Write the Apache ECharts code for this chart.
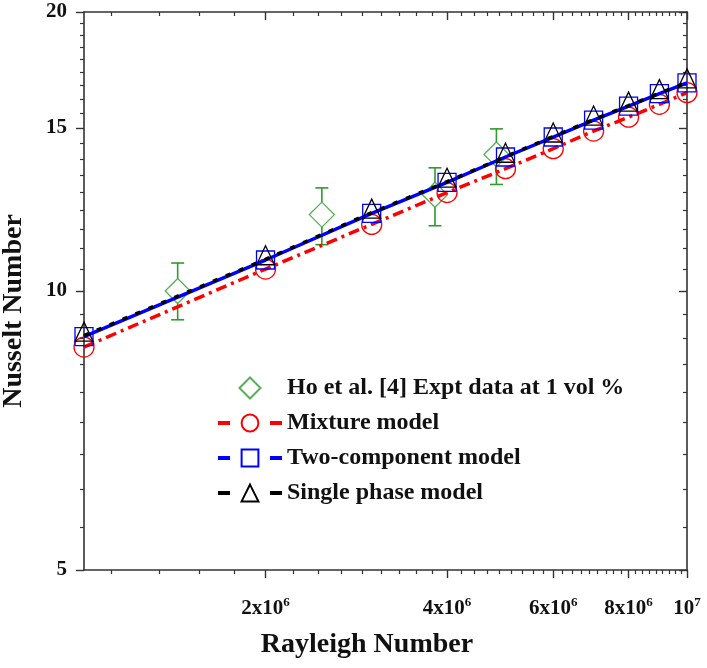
<!DOCTYPE html>
<html><head><meta charset="utf-8">
<script src="https://cdn.jsdelivr.net/npm/echarts@6/dist/echarts.min.js"></script>
<style>html,body{margin:0;padding:0;background:#fff}#c{width:707px;height:668px}</style>
</head><body><div id="c"></div>
<script>
// ---- data ----
const rayleigh = [1e6, 2e6, 3e6, 4e6, 5e6, 6e6, 7e6, 8e6, 9e6, 1e7];
const mixture = [8.70, 10.56, 11.80, 12.77, 13.55, 14.24, 14.88, 15.40, 15.90, 16.37];
const twoComponent = [8.93, 10.80, 12.13, 13.10, 13.95, 14.66, 15.29, 15.83, 16.33, 16.77];
const singlePhase = [8.95, 10.82, 12.15, 13.12, 13.96, 14.68, 15.31, 15.85, 16.35, 16.79];
const exptRa = [1.43e6, 2.48e6, 3.82e6, 4.83e6];
const exptNu = [10.0, 12.09, 12.70, 14.04];
const exptLow = [9.31, 11.22, 11.76, 13.03];
const exptHigh = [10.72, 12.92, 13.58, 14.96];
const xTickValues = [2e6, 4e6, 6e6, 8e6, 1e7];
const xTickLabels = ['2x10{s|6}', '4x10{s|6}', '6x10{s|6}', '8x10{s|6}', '10{s|7}'];
const yTickValues = [5, 10, 15, 20];
const yTickLabels = ['5', '10', '15', '20'];
const seriesNames = ['Ho et al. [4] Expt data at 1 vol %', 'Mixture model', 'Two-component model', 'Single phase model'];

const X_MIN = 1e6, X_MAX = 1e7, Y_MIN = 5, Y_MAX = 20;
const FONT = '"Liberation Serif","Times New Roman",serif';
const GREEN = '#2f9a2f';

function minorTicks(step, lo, hi) {
  const out = [];
  const sub = step / 9;
  for (let k = 0; k * sub <= hi + 1e-9; k++) {
    const v = k * sub;
    if (v > lo && v < hi && k % 9 !== 0) out.push(v);
  }
  return out;
}
const xMinor = minorTicks(2e6, X_MIN, X_MAX);
const yMinor = minorTicks(5, Y_MIN, Y_MAX);

function axisBase(extra) {
  return Object.assign({
    type: 'log', logBase: 10,
    splitLine: { show: false },
    axisLine: { show: false, lineStyle: { color: '#333', width: 1.6 } },
    axisLabel: { show: false },
    axisTick: { show: true, lineStyle: { color: '#333', width: 1.4 } }
  }, extra);
}

const xAxes = [
  axisBase({ position: 'bottom', min: X_MIN, max: X_MAX,
    axisLine: { show: true, onZero: false, lineStyle: { color: '#333', width: 1.6 } },
    axisTick: { show: true, inside: false, length: 8, customValues: xTickValues, lineStyle: { color: '#333', width: 1.4 } },
    axisLabel: { show: true, customValues: xTickValues, margin: 26,
      formatter: v => { const i = xTickValues.findIndex(t => Math.abs(t - v) / t < 1e-6); return i >= 0 ? xTickLabels[i] : ''; },
      rich: {
        s: { fontFamily: FONT, fontWeight: 'bold', fontSize: 13, color: '#111', padding: [0, 0, 12, 0] }
      },
      fontFamily: FONT, fontWeight: 'bold', fontSize: 21, color: '#111' } }),
  axisBase({ position: 'bottom', min: X_MIN, max: X_MAX,
    axisTick: { show: true, inside: false, length: 4, customValues: xMinor, lineStyle: { color: '#333', width: 1.2 } } }),
  axisBase({ position: 'top', min: X_MIN, max: X_MAX,
    axisLine: { show: true, onZero: false, lineStyle: { color: '#333', width: 1.6 } },
    axisTick: { show: true, inside: true, length: 8, customValues: xTickValues, lineStyle: { color: '#333', width: 1.4 } } }),
  axisBase({ position: 'top', min: X_MIN, max: X_MAX,
    axisTick: { show: true, inside: true, length: 4, customValues: xMinor, lineStyle: { color: '#333', width: 1.2 } } })
];
const yAxes = [
  axisBase({ position: 'left', min: Y_MIN, max: Y_MAX,
    axisLine: { show: true, onZero: false, lineStyle: { color: '#333', width: 1.6 } },
    axisTick: { show: true, inside: false, length: 8, customValues: yTickValues, lineStyle: { color: '#333', width: 1.4 } },
    axisLabel: { show: true, customValues: yTickValues, margin: 17,
      formatter: v => { const i = yTickValues.findIndex(t => Math.abs(t - v) < 1e-6); return i >= 0 ? yTickLabels[i] : ''; },
      fontFamily: FONT, fontWeight: 'bold', fontSize: 21, color: '#111' } }),
  axisBase({ position: 'left', min: Y_MIN, max: Y_MAX,
    axisTick: { show: true, inside: false, length: 4, customValues: yMinor, lineStyle: { color: '#333', width: 1.2 } } }),
  axisBase({ position: 'right', min: Y_MIN, max: Y_MAX,
    axisLine: { show: true, onZero: false, lineStyle: { color: '#333', width: 1.6 } },
    axisTick: { show: true, inside: true, length: 8, customValues: yTickValues, lineStyle: { color: '#333', width: 1.4 } } }),
  axisBase({ position: 'right', min: Y_MIN, max: Y_MAX,
    axisTick: { show: true, inside: true, length: 4, customValues: yMinor, lineStyle: { color: '#333', width: 1.2 } } })
];

const pairs = (xs, ys) => xs.map((x, i) => [x, ys[i]]);
const hollow = c => ({ color: 'rgba(0,0,0,0)', borderColor: c, borderWidth: 1.3 });
const legendLine = { type: [12, 40, 12], width: 4 };

const chart = echarts.init(document.getElementById('c'), null, { renderer: 'canvas' });
chart.setOption({
  animation: false,
  backgroundColor: '#fff',
  grid: { left: 84, right: 20, top: 12, bottom: 98, containLabel: false, outerBoundsMode: 'none' },
  xAxis: xAxes,
  yAxis: yAxes,
  legend: {
    orient: 'vertical', left: 211, top: 371,
    itemWidth: 64, itemHeight: 21, itemGap: 11,
    textStyle: { fontFamily: FONT, fontWeight: 'bold', fontSize: 24, color: '#111', lineHeight: 21 },
    data: [
      { name: seriesNames[0], icon: 'path://M0,1 L1,0 L2,1 L1,2 Z' },
      { name: seriesNames[1], lineStyle: legendLine },
      { name: seriesNames[2], lineStyle: legendLine },
      { name: seriesNames[3], lineStyle: legendLine }
    ]
  },
  graphic: [
    { type: 'text', x: 14, y: 311, rotation: Math.PI / 2,
      style: { text: 'Nusselt Number', font: 'bold 28px ' + FONT, fill: '#111', align: 'center', verticalAlign: 'middle' } },
    { type: 'text', x: 367, y: 645,
      style: { text: 'Rayleigh Number', font: 'bold 28px ' + FONT, fill: '#111', align: 'center', verticalAlign: 'middle' } }
  ],
  series: [
    {
      type: 'custom', name: 'errbar', xAxisIndex: 0, yAxisIndex: 0, silent: true, z: 2,
      data: exptRa.map((x, i) => [x, exptNu[i], exptLow[i], exptHigh[i]]),
      encode: { x: 0, y: [1, 2, 3] },
      renderItem: (params, api) => {
        const x = api.value(0), y = api.value(1), lo = api.value(2), hi = api.value(3);
        const c = api.coord([x, y]), pl = api.coord([x, lo]), ph = api.coord([x, hi]);
        const h = 12.5, w = 6.5;
        const style = { stroke: GREEN, lineWidth: 1.6 };
        return { type: 'group', children: [
          { type: 'line', shape: { x1: ph[0] - w, y1: ph[1], x2: ph[0] + w, y2: ph[1] }, style },
          { type: 'line', shape: { x1: ph[0], y1: ph[1], x2: c[0], y2: c[1] - h }, style },
          { type: 'line', shape: { x1: c[0], y1: c[1] + h, x2: pl[0], y2: pl[1] }, style },
          { type: 'line', shape: { x1: pl[0] - w, y1: pl[1], x2: pl[0] + w, y2: pl[1] }, style }
        ] };
      }
    },
    {
      type: 'scatter', name: seriesNames[0], z: 3,
      data: pairs(exptRa, exptNu),
      symbol: 'diamond', symbolSize: 25,
      itemStyle: hollow(GREEN)
    },
    {
      type: 'line', name: seriesNames[1], z: 4,
      data: pairs(rayleigh, mixture),
      symbol: 'circle', symbolSize: 20, showAllSymbol: true,
      lineStyle: { color: '#ff0000', width: 3.5, type: [11, 5, 3, 5] },
      itemStyle: hollow('#ff0000')
    },
    {
      type: 'line', name: seriesNames[2], z: 5,
      data: pairs(rayleigh, twoComponent),
      symbol: 'rect', symbolSize: 18, showAllSymbol: true,
      lineStyle: { color: '#0000ff', width: 3.5, type: 'solid' },
      itemStyle: hollow('#0000ff')
    },
    {
      type: 'line', name: seriesNames[3], z: 6,
      data: pairs(rayleigh, singlePhase),
      symbol: 'triangle', symbolSize: [18, 19], symbolOffset: [0, -4], showAllSymbol: true,
      lineStyle: { color: '#000000', width: 3.5, type: [5, 9] },
      itemStyle: hollow('#000000')
    }
  ]
});
</script></body></html>
